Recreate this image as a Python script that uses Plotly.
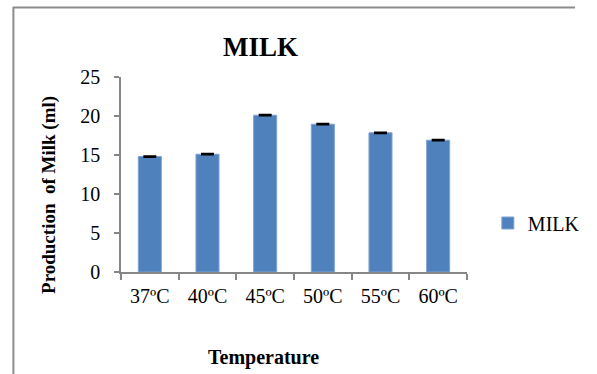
import plotly.graph_objects as go

categories = ["37ºC", "40ºC", "45ºC", "50ºC", "55ºC", "60ºC"]
milk = [14.8, 15.1, 20.1, 18.95, 17.85, 16.9]
milk_err = [0.08, 0.08, 0.08, 0.08, 0.08, 0.08]
y_ticks = [0, 5, 10, 15, 20, 25]

FONT = "'Liberation Serif', 'Times New Roman', Times, serif"

fig = go.Figure()
fig.add_trace(go.Bar(
    x=categories, y=milk, name="MILK",
    marker=dict(color="#4F81BD", line=dict(color="#7FA3D3", width=1)),
    error_y=dict(type="data", array=milk_err, symmetric=True,
                 color="black", thickness=1.5, width=6.5),
))

L, R, T, B = 121, 111, 77, 102
W, H = 597, 374
pw, ph = W - L - R, H - T - B

def px(x):
    return (x - L) / pw

def py(y):
    return (H - B - y) / ph

fig.update_layout(
    width=W, height=H,
    margin=dict(l=L, r=R, t=T, b=B),
    paper_bgcolor="white", plot_bgcolor="white",
    font=dict(family=FONT, size=20, color="black"),
    bargap=0.6,
    showlegend=True,
    legend=dict(x=px(508), y=py(223), xanchor="left", yanchor="middle",
                font=dict(size=20, family=FONT, color="black"),
                bgcolor="rgba(0,0,0,0)"),
    xaxis=dict(type="category", showline=True, linecolor="#868686", linewidth=1.5,
               ticks="outside", tickson="boundaries", ticklen=6, tickcolor="#868686",
               tickwidth=1.5, showgrid=False, ticklabelstandoff=5,
               tickfont=dict(size=20, family=FONT, color="black")),
    yaxis=dict(range=[0, 25], tickvals=y_ticks, showline=True, linecolor="#868686",
               linewidth=1.5, ticks="outside", ticklen=5, tickcolor="#868686",
               tickwidth=1.5, showgrid=False, zeroline=False, ticklabelstandoff=10,
               tickfont=dict(size=20, family=FONT, color="black")),
    annotations=[
        dict(text="<b>MILK</b>", x=px(268), y=py(47), xref="paper", yref="paper",
             xanchor="center", yanchor="middle",
             showarrow=False, font=dict(size=27, family=FONT, color="black")),
        dict(text="<b>Production  of Milk (ml)</b>", x=px(45), y=py(195),
             xref="paper", yref="paper", xanchor="center", yanchor="middle",
             showarrow=False, textangle=-90,
             font=dict(size=19, family=FONT, color="black")),
        dict(text="<b>Temperature</b>", x=px(271), y=py(357), xref="paper",
             yref="paper", xanchor="center", yanchor="middle", showarrow=False,
             font=dict(size=20, family=FONT, color="black")),
    ],
    shapes=[
        dict(type="line", xref="paper", yref="paper", x0=px(7), x1=px(600),
             y0=py(7.5), y1=py(7.5), line=dict(color="#8C8C8C", width=2)),
        dict(type="line", xref="paper", yref="paper", x0=px(7.5), x1=px(7.5),
             y0=py(7), y1=py(380), line=dict(color="#8C8C8C", width=2)),
    ],
)

fig.write_html("out.html", config={"displayModeBar": False},
               post_script="document.body.style.margin='0';document.body.style.overflow='hidden';")
